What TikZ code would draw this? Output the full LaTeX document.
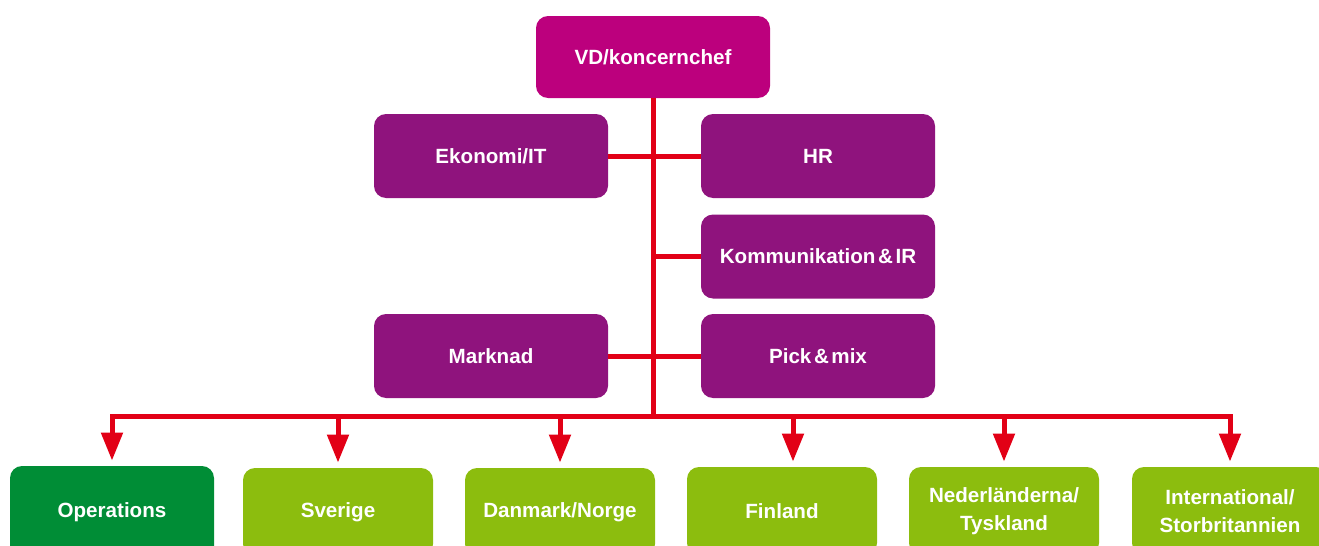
\documentclass[tikz,border=0pt]{standalone}
\usepackage{fontspec}
\setmainfont{Liberation Sans}[WordSpace=0.45]
\usepackage{tikz}
\usetikzlibrary{
    positioning,
    arrows.meta,
    calc
}
\definecolor{chiefMagenta}{RGB}{188, 0, 125}
\definecolor{staffPurple}{RGB}{143, 19, 125}
\definecolor{lineRed}{RGB}{226, 0, 22}
\definecolor{opsGreen}{RGB}{0, 141, 54}
\definecolor{marketGreen}{RGB}{140, 189, 14}

\tikzset{
    orgbox/.style={rounded corners=6pt, inner sep=0pt, text=white, align=center,
        font=\fontsize{10.3}{14}\selectfont\bfseries},
    staffbox/.style={orgbox, fill=staffPurple, minimum width=117pt, minimum height=42pt},
    unitbox/.style={orgbox, fill=marketGreen, minimum width=95pt, minimum height=44pt},
    redline/.style={draw=lineRed, line width=2.5pt},
    redarrow/.style={redline, shorten >=2.5pt, -{Triangle[width=10.5pt,length=14pt]}}
}

\begin{document}
\begin{tikzpicture}[x=0.5pt, y=-0.5pt]
            \useasboundingbox (0,0) rectangle (1319,546);
            \clip (0,0) rectangle (1319,546);

            \node[orgbox, fill=chiefMagenta, minimum width=117pt, minimum height=41pt] (vd) at (653,57) {VD/koncernchef};
            \node[staffbox] (eko) at (491,156) {Ekonomi/IT};
            \node[staffbox] (hr) at (818,156) {HR};
            \node[staffbox] (kom) at (818,256.5) {Kommunikation \& IR};
            \node[staffbox] (mark) at (491,356) {Marknad};
            \node[staffbox] (pick) at (818,356) {Pick \& mix};

            \node[unitbox, fill=opsGreen, minimum width=102pt, minimum height=46pt] (ops) at (112,512) {Operations};
            \node[unitbox] (sve) at (338,512) {Sverige};
            \node[unitbox] (dan) at (560,512) {Danmark/Norge};
            \node[unitbox] (fin) at (782,511) {Finland};
            \node[unitbox] (nl) at (1004,511) {Nederländerna/\\Tyskland};
            \node[unitbox, minimum width=98pt] (intl) at (1230,511) {International/\\Storbritannien};

            \coordinate (bus) at (653,416);

            \draw[redline] (vd) -- (bus);
            \draw[redline] (eko) -- (hr);
            \draw[redline] (kom.west) -- (kom.west -| bus);
            \draw[redline] (mark) -- (pick);
            \foreach \unit in {ops, sve, dan, nl, intl}
                \draw[redarrow] (bus) -| (\unit.north);
            \draw[redarrow] (bus) -| ([xshift=5.5pt]fin.north);
        \end{tikzpicture}
\end{document}
